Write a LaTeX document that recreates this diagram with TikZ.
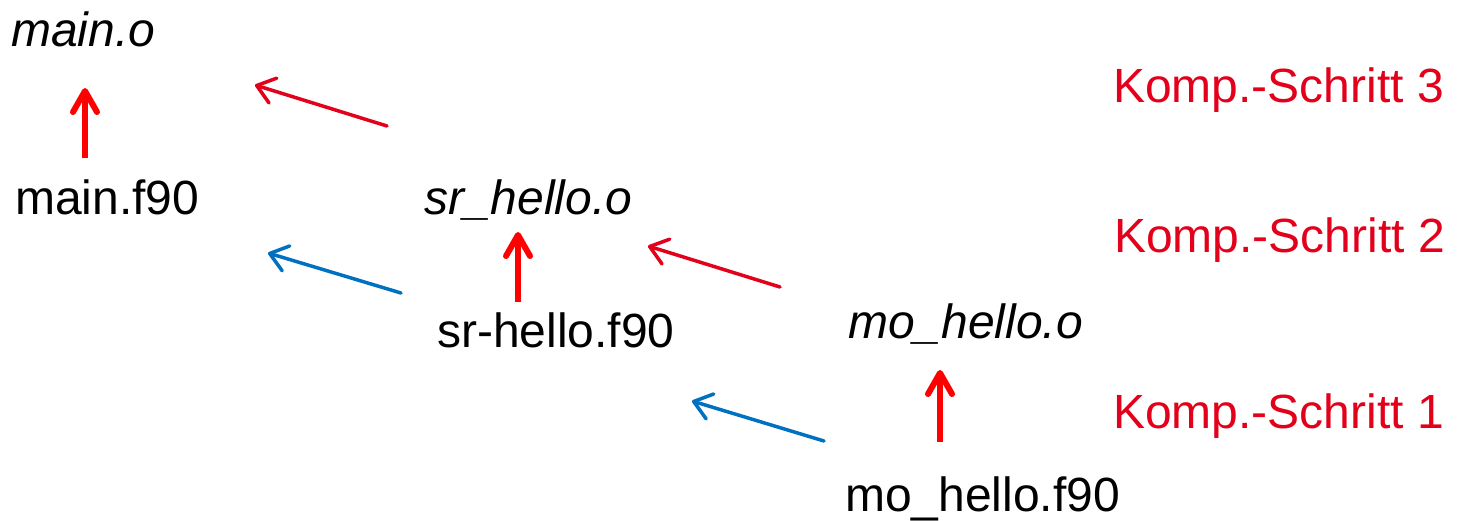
\documentclass[tikz,border=0pt]{standalone}
\usepackage{fontspec}
\setmainfont{Liberation Sans}
\usetikzlibrary{arrows.meta}
\definecolor{stepred}{HTML}{E2001A}
\definecolor{linkblue}{HTML}{0070C0}
\definecolor{pured}{HTML}{FF0000}
\begin{document}
\begin{tikzpicture}[x=1pt,y=-1pt,
  lbl/.style={anchor=base west,inner sep=0pt,font=\fontsize{48}{56}\selectfont},
  obj/.style={lbl,font=\fontsize{48}{56}\selectfont\itshape},
  steplbl/.style={lbl,text=stepred},
  comp/.style={draw=pured,line width=6.5pt,-{Straight Barb[length=21pt,width=24pt,line width=6pt,round]}},
  dep/.style={line width=3.5pt,line cap=round,-{Straight Barb[length=17pt,width=26pt,line width=3.5pt,round]}}]
\useasboundingbox (0,0) rectangle (1462,520);
\node[obj] (mo) at (11,46) {main.o};
\node[lbl] (mf) at (15,214) {main.f90};
\node[obj] (so) at (424,214) {sr\_hello.o};
\node[lbl] (sf) at (437,347) {sr-hello.f90};
\node[obj] (moo) at (848,338) {mo\_hello.o};
\node[lbl] (mof) at (845,511) {mo\_hello.f90};
\node[steplbl] (k3) at (1113,102) {Komp.-Schritt 3};
\node[steplbl] (k2) at (1114,252) {Komp.-Schritt 2};
\node[steplbl] (k1) at (1113,428) {Komp.-Schritt 1};
% arrow end points
\coordinate (a1s) at (85,158); \coordinate (a1e) at (85,88);
\coordinate (a2s) at (518,302); \coordinate (a2e) at (518,232);
\coordinate (a3s) at (940,442); \coordinate (a3e) at (940,370);
\coordinate (r1s) at (387,126); \coordinate (r1e) at (255,85);
\coordinate (r2s) at (780,287); \coordinate (r2e) at (648,246);
\coordinate (b1s) at (401,293); \coordinate (b1e) at (268,253);
\coordinate (b2s) at (824,441); \coordinate (b2e) at (692,401);
\draw[comp] (a1s) -- (a1e);
\draw[comp] (a2s) -- (a2e);
\draw[comp] (a3s) -- (a3e);
\draw[dep,draw=stepred] (r1s) -- (r1e);
\draw[dep,draw=stepred] (r2s) -- (r2e);
\draw[dep,draw=linkblue] (b1s) -- (b1e);
\draw[dep,draw=linkblue] (b2s) -- (b2e);
\end{tikzpicture}
\end{document}
